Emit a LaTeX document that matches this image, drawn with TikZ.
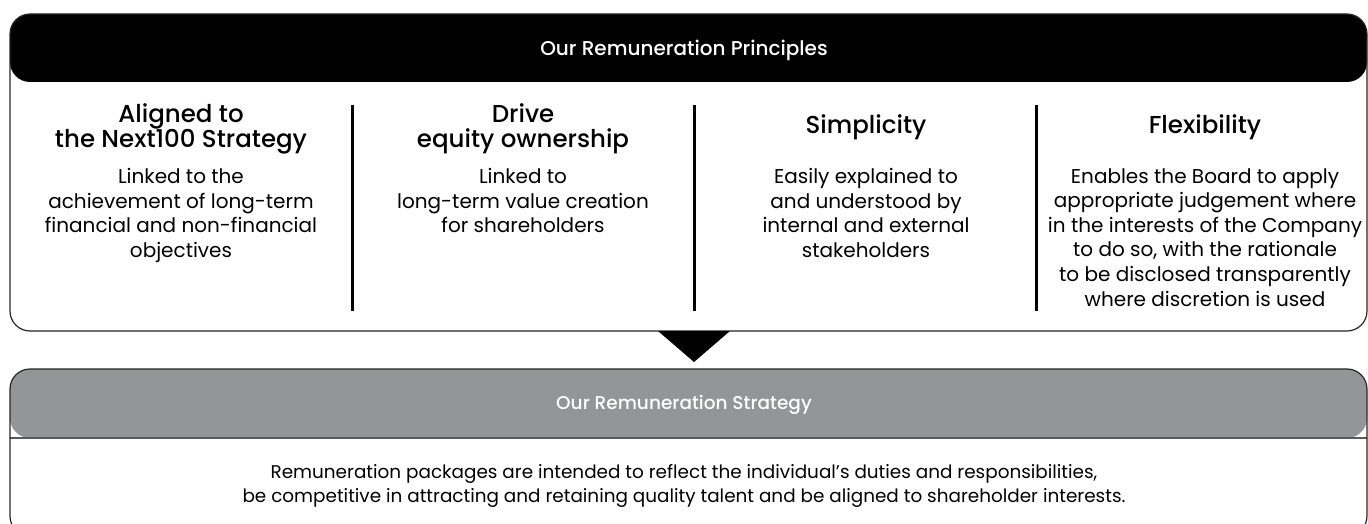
\documentclass[tikz,border=0pt]{standalone}
\usepackage{fontspec}
\setmainfont{Poppins}
\newfontfamily\medfont{Poppins Medium}
\usetikzlibrary{positioning}
\definecolor{bandgrey}{HTML}{939598}
\definecolor{rimgrey}{HTML}{58595B}
\tikzstyle{panel}=[draw=black!85, line width=1.2pt, rounded corners=20pt, inner sep=0pt, fill=white]
\tikzstyle{bandtitle}=[text=white, inner sep=0pt, font=\medfont\fontsize{20}{24}\selectfont]
\tikzstyle{colhead}=[anchor=north, align=center, inner sep=0pt, font=\medfont\fontsize{24.5}{25}\selectfont]
\tikzstyle{colbody}=[anchor=north, align=center, inner sep=0pt, font=\fontsize{20}{24.6}\selectfont]
\tikzstyle{divider}=[line width=3pt]
\begin{document}
\begin{tikzpicture}[x=1pt,y=-1pt]
\useasboundingbox (0,0) rectangle (1368,524);
\clip (0,0) rectangle (1368,524);
\node[panel, minimum width=1357pt, minimum height=317pt,
  path picture={\fill[black] (path picture bounding box.north west) rectangle ([yshift=-68pt]path picture bounding box.north east);}]
  (princ) at (688.5,172.5) {};
\node[panel, minimum width=1357pt, minimum height=167pt,
  path picture={\fill[bandgrey] (path picture bounding box.north west) rectangle ([yshift=-69pt]path picture bounding box.north east);
    \draw[rimgrey, line width=1.5pt] ([yshift=-69pt]path picture bounding box.north west) -- ([yshift=-69pt]path picture bounding box.north east);}]
  (strat) at (688.5,452.5) {};
\fill (658,331) -- (730,331) -- (694,362) -- cycle;
\node[bandtitle] (princTitle) at (684,50) {Our Remuneration Principles};
\node[bandtitle, font=\medfont\fontsize{18.5}{22}\selectfont] (stratTitle) at (684,405) {Our Remuneration Strategy};
\foreach \x/\n in {352/1,694/2,1036/3} {
	\coordinate (d\n a) at (\x,105);
	\coordinate (d\n b) at (\x,311);
	\draw[divider] (d\n a) -- (d\n b);
}
\node[colhead] (aligned) at (181,103) {Aligned to\\the Next100 Strategy};
\node[colhead] (drive) at (523,103) {Drive\\equity ownership};
\node[colhead] (simple) at (866,114) {Simplicity};
\node[colhead] (flex) at (1205,114) {Flexibility};
\node[colbody] (alignedText) at (181,168) {Linked to the\\achievement of long-term\\financial and non-financial\\objectives};
\node[colbody] (driveText) at (523,168) {Linked to\\long-term value creation\\for shareholders};
\node[colbody] (simpleText) at (866,168) {Easily explained to\\and understood by\\internal and external\\stakeholders};
\node[colbody] (flexText) at (1205,168) {Enables the Board to apply\\appropriate judgement where\\in the interests of the Company\\to do so, with the rationale\\to be disclosed transparently\\where discretion is used};
\node[colbody, anchor=center, font=\fontsize{18.4}{24}\selectfont] (stratText) at (684,486) {Remuneration packages are intended to reflect the individual’s duties and responsibilities,\\be competitive in attracting and retaining quality talent and be aligned to shareholder interests.};
\end{tikzpicture}
\end{document}
